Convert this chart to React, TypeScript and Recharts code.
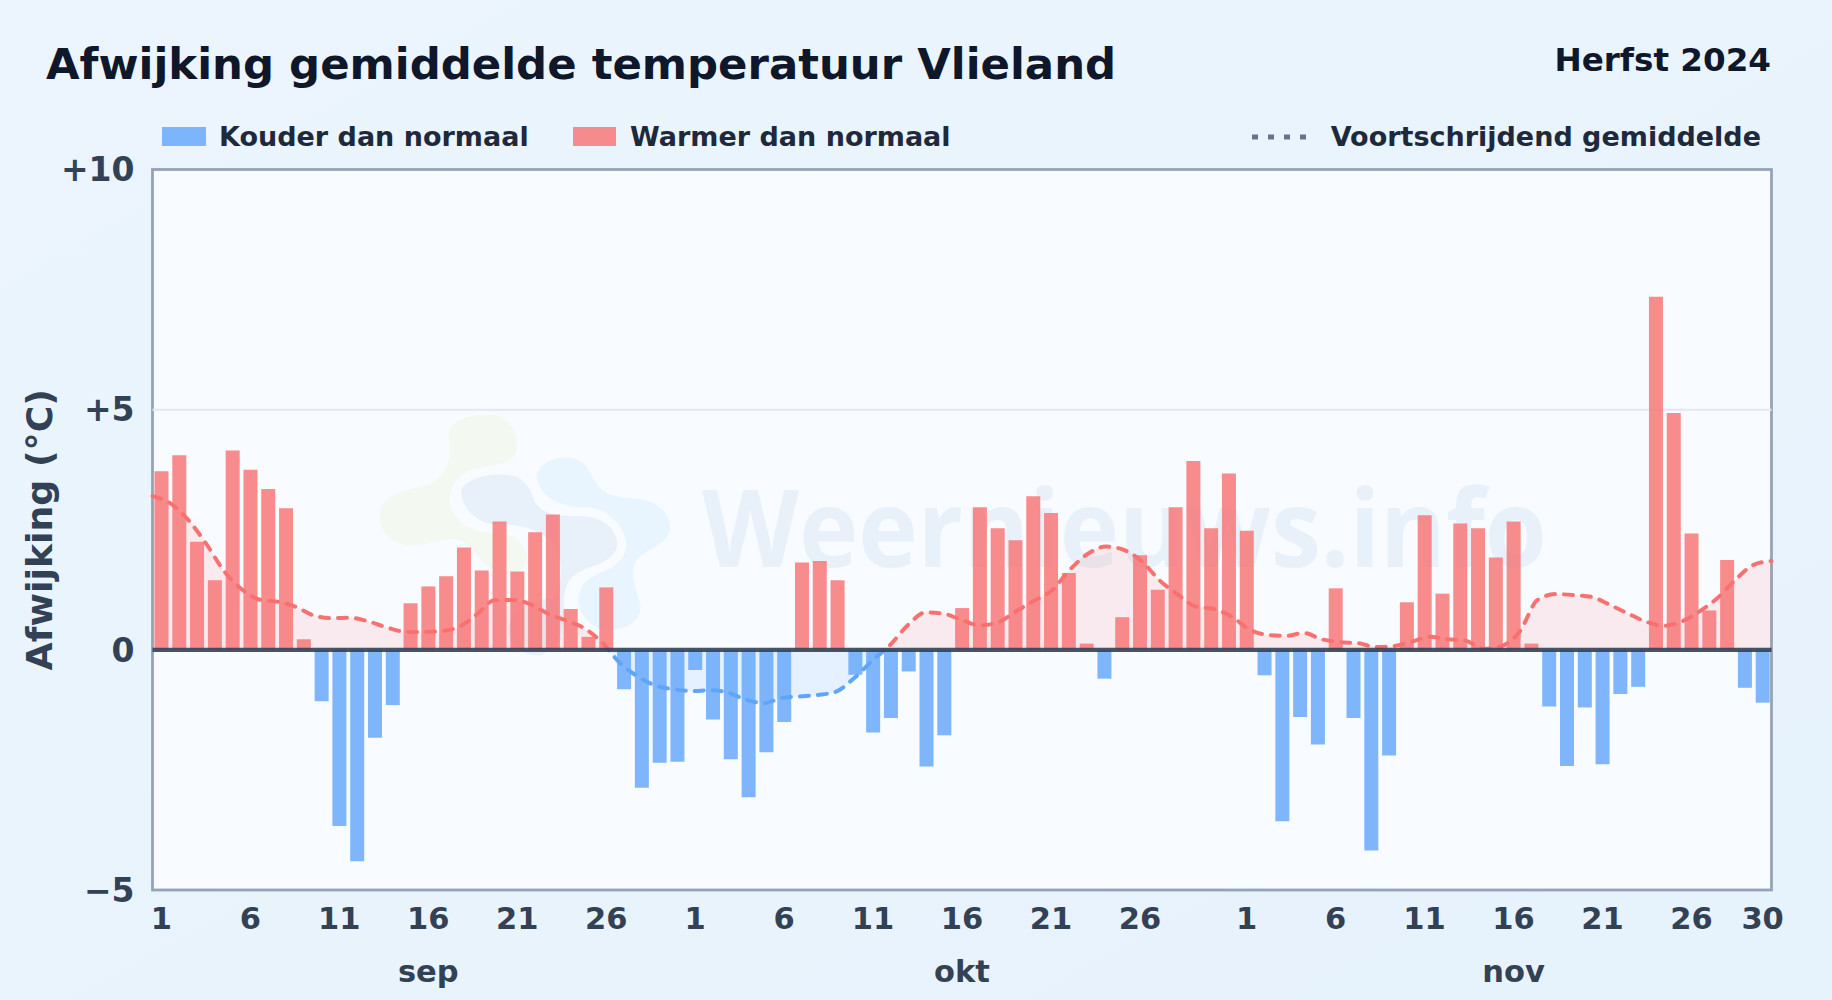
import React from 'react';
import {
  ComposedChart,
  Area,
  Bar,
  Cell,
  XAxis,
  YAxis,
  CartesianGrid,
  ReferenceLine,
} from 'recharts';

const months = ['sep', 'okt', 'nov'];
const monthLengths = [30, 31, 30];

// daily deviation from normal, sep 1 .. nov 30
const deviation = [
  3.72, 4.05, 2.25, 1.45, 4.15, 3.75, 3.35, 2.95, 0.22, -1.07,
  -3.67, -4.4, -1.83, -1.15, 0.97, 1.32, 1.53, 2.13, 1.65, 2.67,
  1.63, 2.45, 2.82, 0.85, 0.27, 1.3, -0.82, -2.87, -2.35, -2.33,
  -0.42, -1.45, -2.28, -3.07, -2.13, -1.5, 1.82, 1.85, 1.45, -0.52,
  -1.72, -1.42, -0.45, -2.43, -1.78, 0.87, 2.97, 2.53, 2.28, 3.2,
  2.85, 1.6, 0.13, -0.6, 0.68, 1.97, 1.25, 2.97, 3.93, 2.53, 3.67,
  2.48, -0.53, -3.57, -1.4, -1.97, 1.28, -1.42, -4.18, -2.2, 0.99,
  2.8, 1.17, 2.63, 2.53, 1.92, 2.67, 0.13, -1.18, -2.42, -1.2,
  -2.38, -0.92, -0.77, 7.35, 4.93, 2.42, 0.82, 1.87, -0.79, -1.1,
];

// the line runs edge to edge of the plot, so it gets its own point axis
const movingAverage = [
  3.2, 3.05, 2.7, 2.2, 1.63, 1.25, 1.04, 1.0, 0.89, 0.71,
  0.66, 0.67, 0.59, 0.47, 0.38, 0.37, 0.39, 0.47, 0.73, 1.03,
  1.04, 0.95, 0.75, 0.61, 0.45, 0.15, -0.28, -0.56, -0.75, -0.82,
  -0.86, -0.84, -0.89, -1.04, -1.11, -1.0, -0.97, -0.94, -0.87, -0.59,
  -0.23, 0.1, 0.52, 0.78, 0.75, 0.62, 0.51, 0.57, 0.8, 1.02,
  1.24, 1.67, 2.0, 2.15, 2.08, 1.84, 1.44, 1.15, 0.9, 0.85, 0.69,
  0.42, 0.31, 0.29, 0.35, 0.22, 0.16, 0.14, 0.06, 0.08, 0.17,
  0.27, 0.22, 0.19, 0.02, 0.08, 0.38, 1.04, 1.16, 1.14, 1.1,
  0.94, 0.76, 0.59, 0.5, 0.59, 0.8, 1.08, 1.46, 1.77, 1.85,
];

const dayTicks = [
  'sep-1', 'sep-6', 'sep-11', 'sep-16', 'sep-21', 'sep-26',
  'okt-1', 'okt-6', 'okt-11', 'okt-16', 'okt-21', 'okt-26',
  'nov-1', 'nov-6', 'nov-11', 'nov-16', 'nov-21', 'nov-26', 'nov-30',
];
const monthTicks = ['sep-16', 'okt-16', 'nov-16'];
const valueTicks = [-5, 0, 5, 10];
const gridLines = [5];

const dayKeys = months.flatMap((m, i) =>
  Array.from({ length: monthLengths[i] }, (_, d) => `${m}-${d + 1}`)
);

const chartData = dayKeys.map((key, i) => ({
  key,
  deviation: deviation[i],
  average: movingAverage[i],
}));

const FONT = '"DejaVu Sans", sans-serif';
const WARM = '#f87171';
const COLD = '#60a5fa';

const PLOT = { left: 152.5, top: 169.5, right: 1771.5, bottom: 890 };
const ZERO_OFFSET = 10 / 15;

const formatValue = (v: number) => (v > 0 ? `+${v}` : v < 0 ? `\u2212${-v}` : '0');

const Backdrop = () => (
  <svg width={1832} height={1000} style={{ position: 'absolute', left: 0, top: 0 }}>
    <defs>
      <linearGradient id="pageBg" x1="0" y1="0" x2="1" y2="1">
        <stop offset="0%" stopColor="#ecf5fd" />
        <stop offset="100%" stopColor="#e6f2fc" />
      </linearGradient>
    </defs>
    <rect width={1832} height={1000} fill="url(#pageBg)" />

    <text x={46} y={79} fontFamily={FONT} fontWeight={700} fontSize={43.4} fill="#0f172a">
      Afwijking gemiddelde temperatuur Vlieland
    </text>
    <text x={1771} y={71} textAnchor="end" fontFamily={FONT} fontWeight={700} fontSize={32.6} fill="#0f172a">
      Herfst 2024
    </text>

    <rect x={162} y={127} width={44} height={19} fill={COLD} fillOpacity={0.8} />
    <text x={219} y={146} fontFamily={FONT} fontWeight={700} fontSize={27} fill="#1e293b">
      Kouder dan normaal
    </text>
    <rect x={573} y={127} width={43} height={19} fill={WARM} fillOpacity={0.8} />
    <text x={630} y={146} fontFamily={FONT} fontWeight={700} fontSize={27} fill="#1e293b">
      Warmer dan normaal
    </text>
    <line x1={1252} y1={137} x2={1310} y2={137} stroke="#64748b" strokeWidth={5} strokeDasharray="6 10" />
    <text x={1761} y={146} textAnchor="end" fontFamily={FONT} fontWeight={700} fontSize={27} fill="#1e293b">
      Voortschrijdend gemiddelde
    </text>

    <rect
      x={PLOT.left}
      y={PLOT.top}
      width={PLOT.right - PLOT.left}
      height={PLOT.bottom - PLOT.top}
      fill="#f8fbff"
      stroke="#94a3b8"
      strokeWidth={2.8}
    />

    {/* watermark */}
    <g transform="translate(360 400) scale(0.3333)">
      <path
        fill="#f3f9f1"
        d="M265 100 C275 55 340 40 400 45 C450 50 475 100 470 150 C465 185 420 195 350 205 C300 215 265 260 270 310 C280 370 340 400 420 402 C470 405 500 430 500 480 C495 520 440 530 400 510 C350 480 340 440 300 420 C250 410 180 445 130 435 C80 425 55 380 60 340 C65 290 120 270 190 260 C240 250 270 200 270 150 Z"
      />
      <path
        fill="#e8f0f9"
        d="M305 270 C315 235 400 215 450 225 C500 235 510 270 525 305 C545 345 600 350 660 348 C730 350 775 390 772 435 C765 480 710 495 670 510 C630 525 610 560 612 610 C615 680 600 740 545 765 C500 770 450 745 445 690 C440 640 510 600 590 590 C610 520 610 470 570 420 C530 385 480 372 420 375 C350 375 300 320 305 270 Z"
      />
      <path
        fill="#e8f4fe"
        d="M530 230 C535 190 590 165 640 175 C690 190 690 230 720 265 C760 300 820 290 870 305 C920 325 940 370 925 405 C905 440 860 445 830 480 C805 520 830 570 842 620 C840 670 790 690 740 690 C690 685 655 640 655 595 C660 550 690 530 730 515 C780 495 800 465 800 430 C790 370 740 325 680 322 C620 325 540 300 530 230 Z"
      />
    </g>
    <text
      x={702}
      y={567}
      textLength={845}
      lengthAdjust="spacingAndGlyphs"
      fontFamily='"Open Sans", sans-serif'
      fontWeight={700}
      fontSize={108}
      fill="#e8f1fa"
    >
      Weernieuws.info
    </text>
  </svg>
);

export default function App() {
  return (
    <div style={{ position: 'absolute', left: 0, top: 0, width: 1832, height: 1000, overflow: 'hidden' }}>
      <Backdrop />
      <div style={{ position: 'absolute', left: 0, top: 0 }}>
        <ComposedChart
          width={1832}
          height={1000}
          data={chartData}
          margin={{ top: PLOT.top, right: 1832 - PLOT.right, left: 0, bottom: 0 }}
          barCategoryGap={0}
        >
          <defs>
            <linearGradient id="avgFill" gradientUnits="userSpaceOnUse" x1="0" y1={PLOT.top} x2="0" y2={PLOT.bottom}>
              <stop offset={ZERO_OFFSET} stopColor={WARM} stopOpacity={0.2} />
              <stop offset={ZERO_OFFSET} stopColor={COLD} stopOpacity={0.2} />
            </linearGradient>
            <linearGradient id="avgStroke" gradientUnits="userSpaceOnUse" x1="0" y1={PLOT.top} x2="0" y2={PLOT.bottom}>
              <stop offset={ZERO_OFFSET} stopColor={WARM} />
              <stop offset={ZERO_OFFSET} stopColor={COLD} />
            </linearGradient>
          </defs>
          <CartesianGrid vertical={false} horizontalValues={gridLines} stroke="#e2e8f0" strokeWidth={2} />
          <XAxis
            dataKey="key"
            ticks={dayTicks}
            interval={0}
            axisLine={false}
            tickLine={false}
            height={50}
            tickMargin={11}
            tick={{ fill: '#334155', fontSize: 30.5, fontWeight: 700, fontFamily: FONT }}
            tickFormatter={(k: string) => k.split('-')[1]}
          />
          <XAxis xAxisId="line" dataKey="key" scale="point" height={0} hide />
          <XAxis
            xAxisId="month"
            dataKey="key"
            ticks={monthTicks}
            interval={0}
            axisLine={false}
            tickLine={false}
            height={60}
            tickMargin={14}
            tick={{ fill: '#334155', fontSize: 30.5, fontWeight: 700, fontFamily: FONT }}
            tickFormatter={(k: string) => k.split('-')[0]}
          />
          <YAxis
            width={PLOT.left}
            domain={[-5, 10]}
            ticks={valueTicks}
            interval={0}
            axisLine={false}
            tickLine={false}
            tickMargin={12}
            tick={{ fill: '#334155', fontSize: 33, fontWeight: 700, fontFamily: FONT }}
            tickFormatter={formatValue}
            label={{
              value: 'Afwijking (\u00b0C)',
              angle: -90,
              position: 'insideLeft',
              offset: 39,
              textAnchor: 'middle',
              style: { fill: '#334155', fontSize: 36.3, fontWeight: 700, fontFamily: FONT },
            }}
          />
          <Area
            xAxisId="line"
            type="monotone"
            dataKey="average"
            name="Voortschrijdend gemiddelde"
            stroke="url(#avgStroke)"
            strokeWidth={4}
            strokeDasharray="9 9"
            strokeLinecap="round"
            fill="url(#avgFill)"
            dot={false}
            activeDot={false}
            isAnimationActive={false}
          />
          <Bar dataKey="deviation" name="Afwijking" barSize={14} fillOpacity={0.8} isAnimationActive={false}>
            {chartData.map((d) => (
              <Cell key={d.key} fill={d.deviation < 0 ? COLD : WARM} />
            ))}
          </Bar>
          <ReferenceLine y={0} stroke="#334155" strokeWidth={4.2} strokeOpacity={0.9} />
        </ComposedChart>
      </div>
    </div>
  );
}
